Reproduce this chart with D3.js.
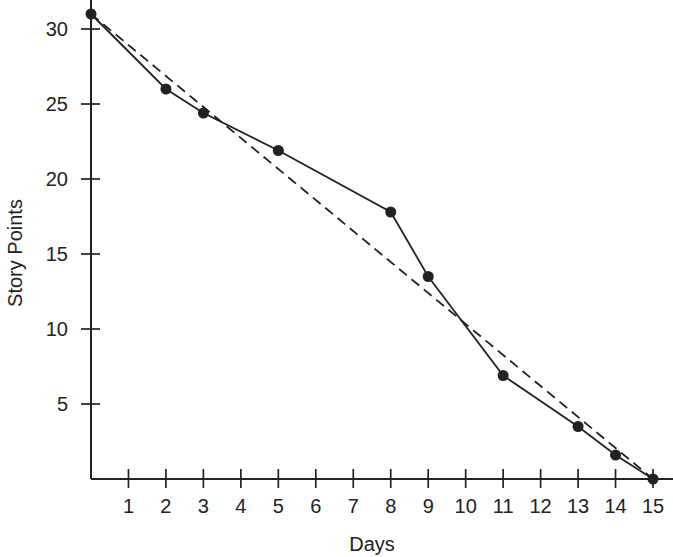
<!DOCTYPE html>
<html><head><meta charset="utf-8">
<script src="https://cdn.jsdelivr.net/npm/d3@7"></script>
<style>body{margin:0;background:#fff}</style>
</head><body>
<svg id="c" width="673" height="557"></svg>
<script>
const days = [0, 2, 3, 5, 8, 9, 11, 13, 14, 15];
const points = [31, 26, 24.4, 21.9, 17.8, 13.5, 6.9, 3.5, 1.6, 0];
const idealDays = [0, 15];
const idealPoints = [31, 0];
const xTicks = [1,2,3,4,5,6,7,8,9,10,11,12,13,14,15];
const yTicks = [5,10,15,20,25,30];

const svg = d3.select("#c");
const ink = "#222";
const x = d3.scaleLinear().domain([0, 15]).range([91, 653]);
const y = d3.scaleLinear().domain([0, 30]).range([479, 29]);
const font = "Liberation Sans, Arial, sans-serif";

svg.append("line").attr("x1", 91).attr("x2", 91).attr("y1", 0).attr("y2", 479).attr("stroke", ink).attr("stroke-width", 2);
svg.append("line").attr("x1", 91).attr("x2", 673).attr("y1", 479).attr("y2", 479).attr("stroke", ink).attr("stroke-width", 2);

const yg = svg.append("g");
yTicks.forEach(t => {
  yg.append("line").attr("x1", 81).attr("x2", 100).attr("y1", y(t)).attr("y2", y(t)).attr("stroke", ink).attr("stroke-width", 1.7);
  yg.append("text").attr("x", 68).attr("y", y(t)).attr("dy", "0.35em").attr("text-anchor", "end")
    .attr("font-family", font).attr("font-size", 20).attr("fill", ink).text(t);
});
const xg = svg.append("g");
xTicks.forEach(t => {
  xg.append("line").attr("x1", x(t)).attr("x2", x(t)).attr("y1", 469).attr("y2", 488).attr("stroke", ink).attr("stroke-width", 1.7);
  xg.append("text").attr("x", x(t)).attr("y", 513).attr("text-anchor", "middle")
    .attr("font-family", font).attr("font-size", 20).attr("fill", ink).text(t);
});

svg.append("text").attr("x", 372).attr("y", 551).attr("text-anchor", "middle")
  .attr("font-family", font).attr("font-size", 20).attr("fill", ink).text("Days");
svg.append("text").attr("transform", "translate(22,253) rotate(-90)").attr("text-anchor", "middle")
  .attr("font-family", font).attr("font-size", 20).attr("fill", ink).text("Story Points");

const line = d3.line().x(d => x(d[0])).y(d => y(d[1]));
svg.append("path").attr("d", line(idealDays.map((d, i) => [d, idealPoints[i]])))
  .attr("fill", "none").attr("stroke", ink).attr("stroke-width", 1.8).attr("stroke-dasharray", "10,6");

const data = days.map((d, i) => [d, points[i]]);
svg.append("path").attr("d", line(data)).attr("fill", "none").attr("stroke", ink).attr("stroke-width", 1.8);
svg.selectAll("circle.p").data(data).enter().append("circle")
  .attr("cx", d => x(d[0])).attr("cy", d => y(d[1])).attr("r", 5.5).attr("fill", ink);
</script>
</body></html>
